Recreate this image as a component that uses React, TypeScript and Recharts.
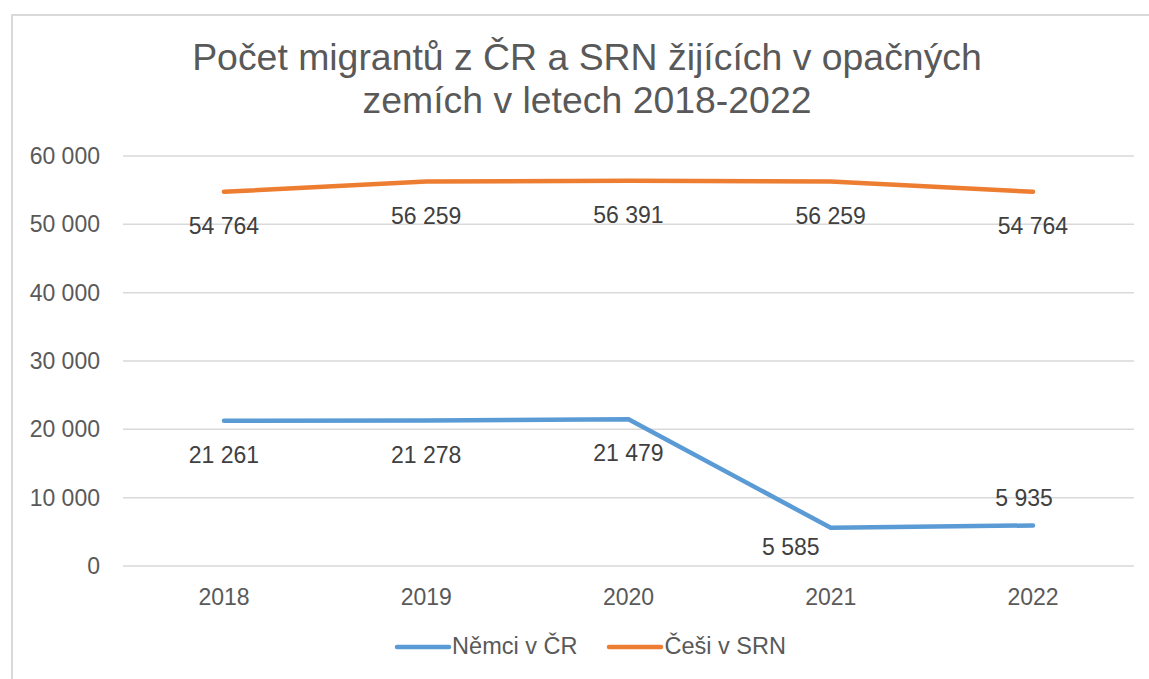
import React from "react";
import { CartesianGrid, Line, LineChart, XAxis, YAxis } from "recharts";

const years = ["2018", "2019", "2020", "2021", "2022"];
const nemciVCR = [21261, 21278, 21479, 5585, 5935];
const cesiVSRN = [54764, 56259, 56391, 56259, 54764];
const yTicks = [0, 10000, 20000, 30000, 40000, 50000, 60000];

const titleLines = [
  "Počet migrantů z ČR a SRN žijících v opačných",
  "zemích v letech 2018-2022",
];

const BLUE = "#5b9bd5";
const ORANGE = "#ed7d31";
const FONT = '"Liberation Sans", Arial, Helvetica, sans-serif';

// where each data label sits relative to its point
const bluePlacement = ["below", "below", "below", "left", "above"];
const orangePlacement = ["below", "below", "below", "below", "below"];

const data = years.map((year, i) => ({
  year,
  nemci: nemciVCR[i],
  cesi: cesiVSRN[i],
}));

function fmt(v: number) {
  return String(v).replace(/\B(?=(\d{3})+(?!\d))/g, " ");
}

function makeLabel(placement: string[]) {
  return (props: any) => {
    const { x, y, index, value } = props;
    const where = placement[index];
    let lx = x;
    let ly = y + 34;
    if (where === "above") {
      lx = x - 9;
      ly = y - 27;
    } else if (where === "left") {
      lx = x - 40;
      ly = y + 19;
    }
    return (
      <text
        key={`lbl-${index}`}
        x={lx}
        y={ly + 8}
        textAnchor="middle"
        fill="#404040"
        fontSize={23}
        fontFamily={FONT}
      >
        {fmt(value)}
      </text>
    );
  };
}

function LegendItem({ color, text }: { color: string; text: string }) {
  return (
    <div style={{ display: "flex", alignItems: "center" }}>
      <svg width={58} height={10}>
        <line x1={3} y1={5} x2={55} y2={5} stroke={color} strokeWidth={4.5} strokeLinecap="round" />
      </svg>
      <span style={{ fontSize: 23.5, color: "#595959", fontFamily: FONT }}>{text}</span>
    </div>
  );
}

export default function App() {
  return (
    <div
      style={{
        position: "fixed",
        left: 0,
        top: 0,
        width: 1149,
        height: 679,
        overflow: "hidden",
        background: "#fff",
      }}
    >
      <div
        style={{
          position: "absolute",
          left: 11,
          top: 14,
          width: 1200,
          height: 720,
          border: "2px solid #d9d9d9",
          boxSizing: "border-box",
        }}
      />
      <div
        style={{
          position: "absolute",
          left: 0,
          top: 36,
          width: 1174,
          textAlign: "center",
          fontFamily: FONT,
          fontSize: 37.4,
          lineHeight: "43px",
          color: "#595959",
        }}
      >
        {titleLines.map((t) => (
          <div key={t}>{t}</div>
        ))}
      </div>
      <div style={{ position: "absolute", left: 0, top: 0 }}>
        <LineChart
          width={1149}
          height={679}
          data={data}
          margin={{ top: 156, right: 15, bottom: 0, left: 0 }}
        >
          <CartesianGrid vertical={false} stroke="#d9d9d9" strokeWidth={1.5} />
          <XAxis
            dataKey="year"
            height={113}
            axisLine={false}
            tickLine={false}
            tickSize={0}
            tickMargin={23}
            padding={{ left: 101, right: 101 }}
            tick={{ fill: "#595959", fontSize: 23, fontFamily: FONT }}
          />
          <YAxis
            width={123}
            domain={[0, 60000]}
            ticks={yTicks}
            axisLine={false}
            tickLine={false}
            tickSize={0}
            tickMargin={23}
            tickFormatter={fmt}
            tick={{ fill: "#595959", fontSize: 23, fontFamily: FONT }}
          />
          <Line
            dataKey="nemci"
            stroke={BLUE}
            strokeWidth={4.5}
            strokeLinecap="round"
            strokeLinejoin="round"
            dot={false}
            label={makeLabel(bluePlacement)}
            isAnimationActive={false}
          />
          <Line
            dataKey="cesi"
            stroke={ORANGE}
            strokeWidth={4.5}
            strokeLinecap="round"
            strokeLinejoin="round"
            dot={false}
            label={makeLabel(orangePlacement)}
            isAnimationActive={false}
          />
        </LineChart>
      </div>
      <div
        style={{
          position: "absolute",
          left: 0,
          top: 633,
          width: 1180,
          display: "flex",
          justifyContent: "center",
          gap: 29,
        }}
      >
        <LegendItem color={BLUE} text="Němci v ČR" />
        <LegendItem color={ORANGE} text="Češi v SRN" />
      </div>
    </div>
  );
}
